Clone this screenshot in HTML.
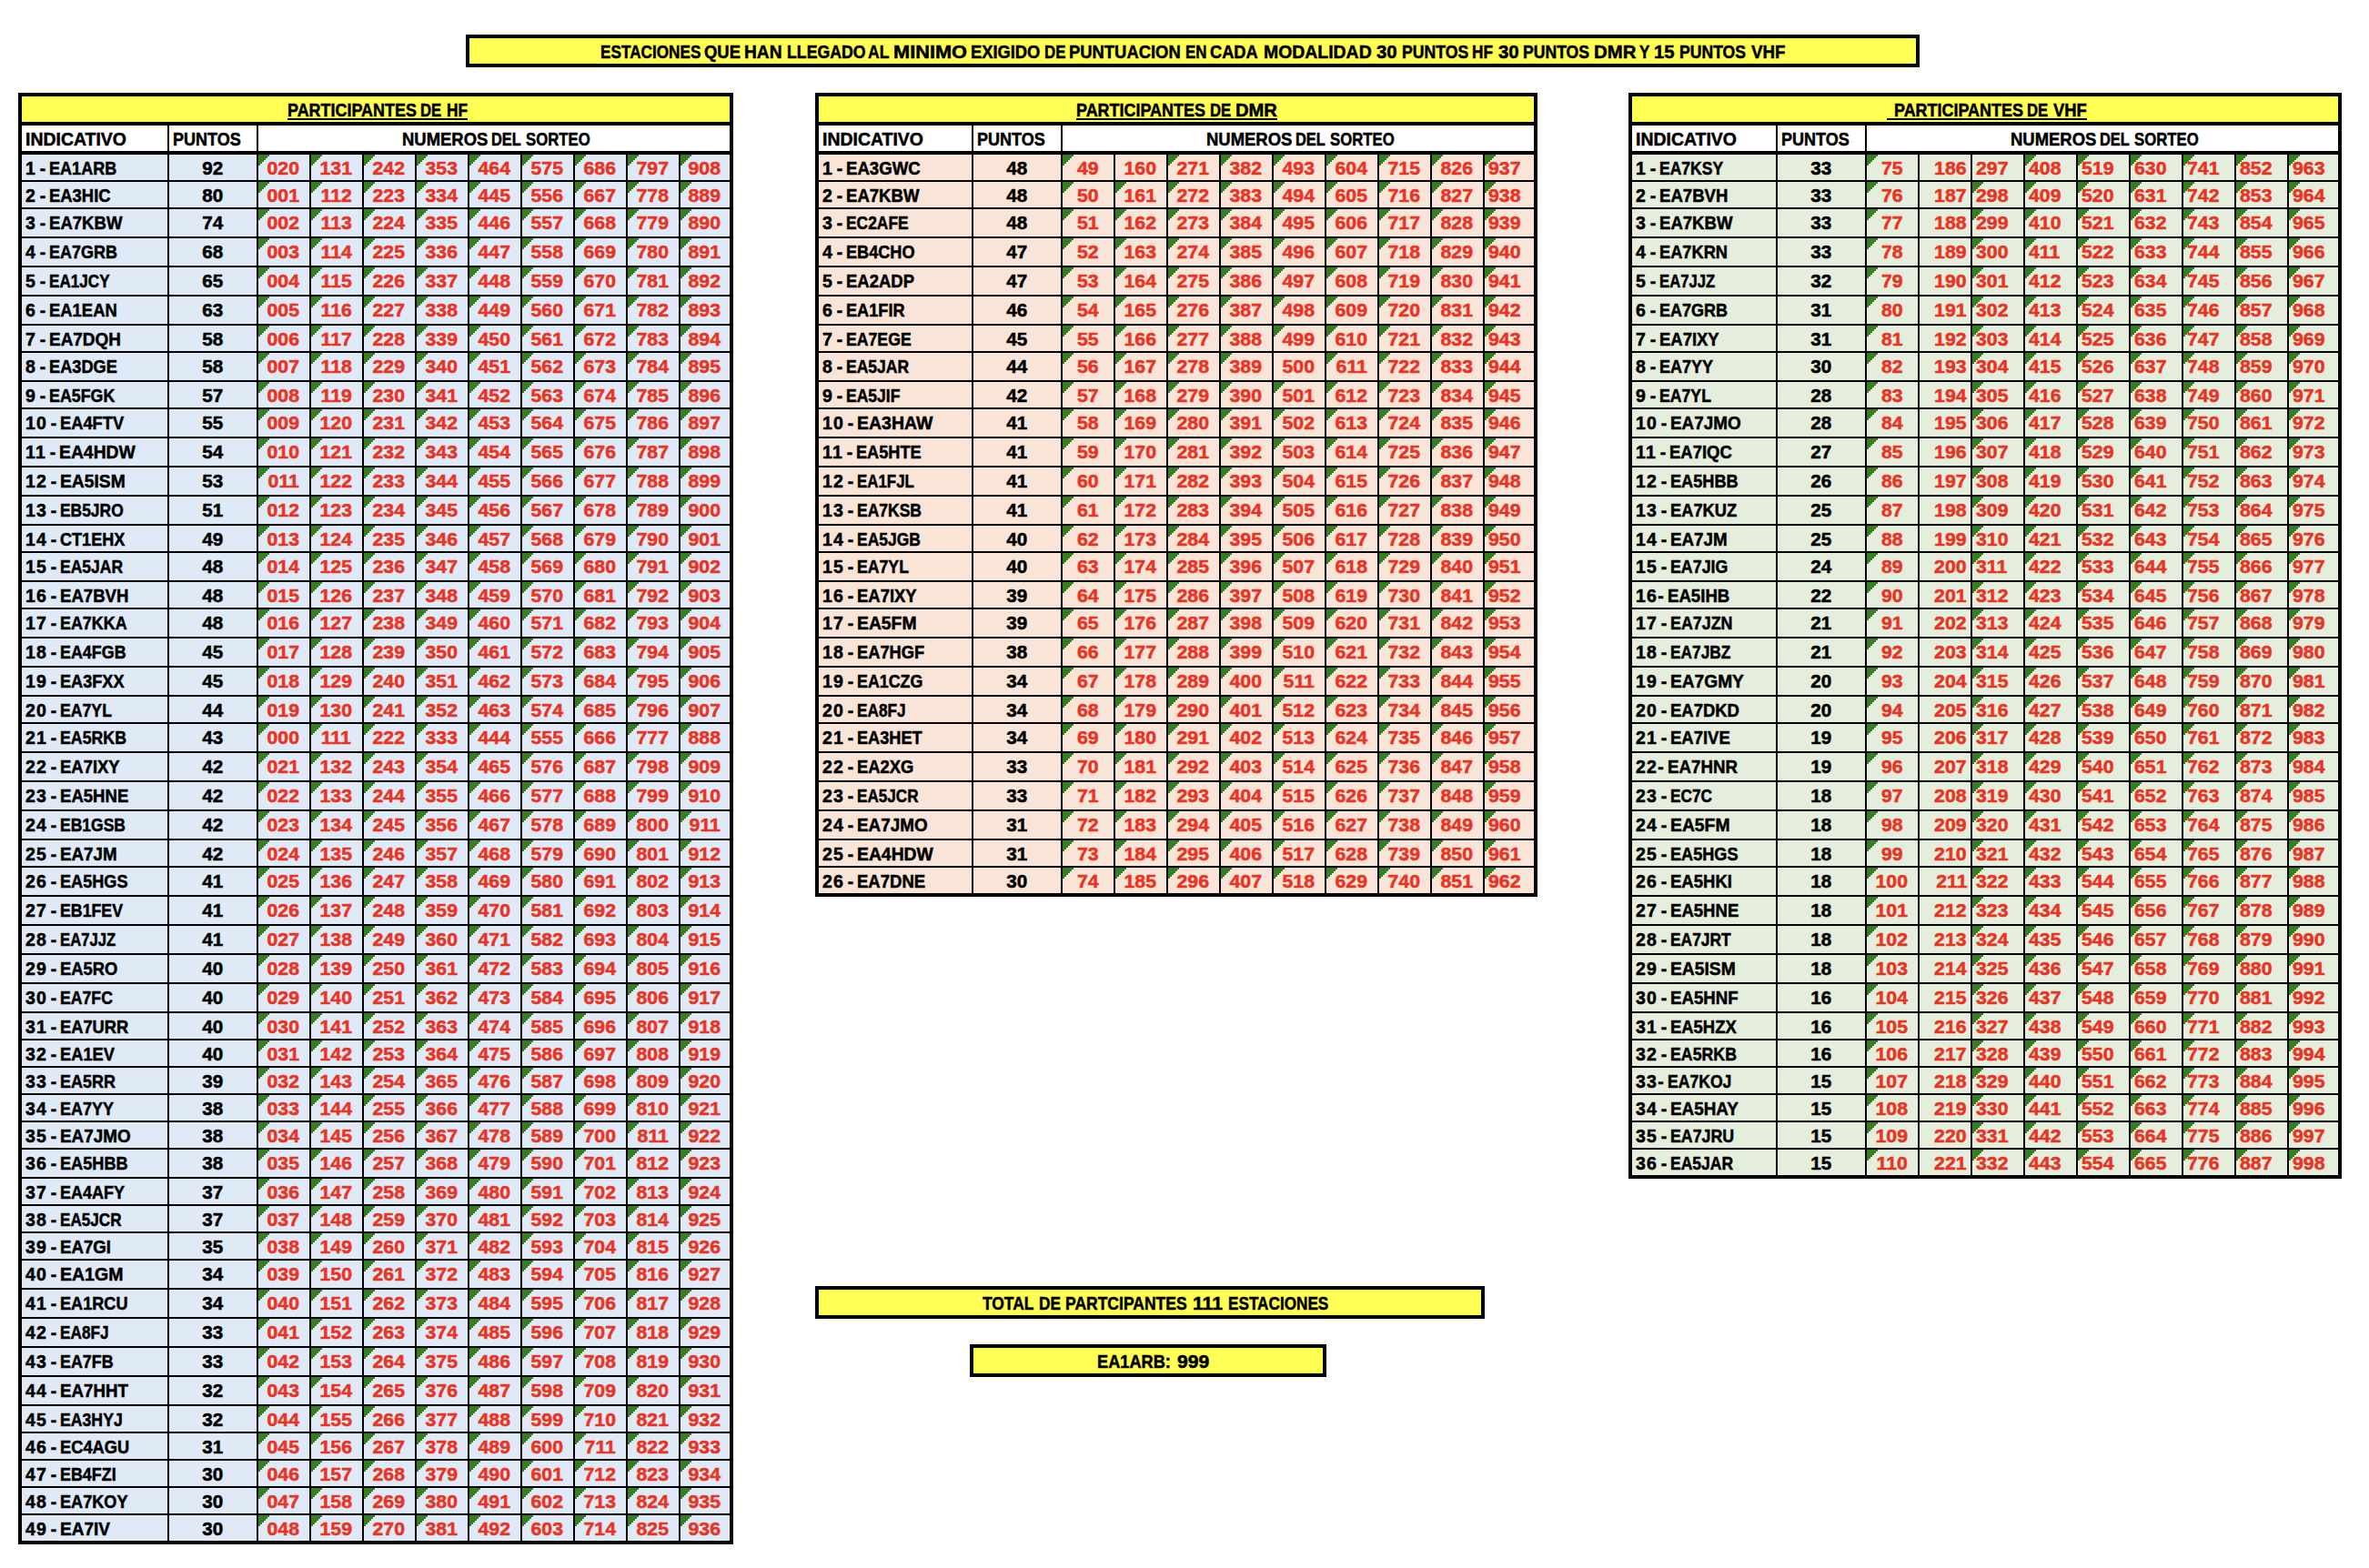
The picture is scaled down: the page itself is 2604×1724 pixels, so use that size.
<!DOCTYPE html><html lang="es"><head><meta charset="utf-8"><title>Sorteo</title><style>
html,body{margin:0;padding:0;background:#fff}
body{width:2604px;height:1724px;position:relative;overflow:hidden;font:bold 19.5px/30px "Liberation Sans",sans-serif;color:#000;-webkit-text-stroke:0.5px}
.tb{position:absolute;top:102px;background:#000}
.ttl{position:absolute;left:4px;right:4px;top:4px;height:28px;background:#ffff54;text-align:center;white-space:pre}
.box{position:absolute;background:#ffff54;border:4px solid #000;height:28px;text-align:center;white-space:pre}
span{display:inline-block;white-space:pre}
.u{text-decoration:underline;text-decoration-thickness:2px;text-underline-offset:2px;text-decoration-skip-ink:none}
.h{position:absolute;top:36px;height:28px;background:#fff;box-sizing:border-box;padding-left:4px;white-space:nowrap}
.h.c{text-align:center;padding-left:0}
.l{transform-origin:0 50%}
.w{position:absolute;top:0;transform-origin:0 50%}
.ul{position:absolute;top:24px;height:2px;background:#000}
.g{position:absolute;left:4px;top:68px;display:grid;gap:2px}
.g div{white-space:nowrap;overflow:hidden;text-align:center}
.g .n{text-align:left;padding-left:4px;word-spacing:-3.06px;letter-spacing:1.26px}
i{font-style:normal;display:inline-block;transform:scaleX(1.09)}
.n i{transform-origin:0 50%;letter-spacing:0;word-spacing:0;margin-left:-1px}
.p i{transform:scaleX(1.06)}
.tl i{transform-origin:0 50%}
.tr i{transform-origin:100% 50%}
.t,.x{color:#ea3323;padding-right:1px}
.g .tl{text-align:left;padding-left:4px}
.g .tr{text-align:right;padding-left:0;padding-right:4px}
.hf .g div{background-color:#dfeaf6}
.dmr .g div{background-color:#f9e5d8}
.vhf .g div{background-color:#e5eedc}
.t{--g:linear-gradient(#377e22,#377e22);background-image:var(--g),var(--g),var(--g),var(--g),var(--g),var(--g);background-repeat:no-repeat;background-size:12px 2px,10px 4px,8px 6px,6px 8px,4px 10px,2px 12px}
</style></head><body>
<div class="box" style="left:512px;top:38px;width:1590px"><span class="w" style="left:144.09px;transform:scaleX(.881)">ESTACIONES</span> <span class="w" style="left:257.91px;transform:scaleX(.946)">QUE</span> <span class="w" style="left:302.05px;transform:scaleX(.984)">HAN</span> <span class="w" style="left:348.65px;transform:scaleX(.908)">LLEGADO</span> <span class="w" style="left:437.91px;transform:scaleX(.899)">AL</span> <span class="w" style="left:465.88px;transform:scaleX(1.116)">MINIMO</span> <span class="w" style="left:550.71px;transform:scaleX(.939)">EXIGIDO</span> <span class="w" style="left:631.51px;transform:scaleX(.864)">DE</span> <span class="w" style="left:659.31px;transform:scaleX(.944)">PUNTUACION</span> <span class="w" style="left:786.91px;transform:scaleX(.866)">EN</span> <span class="w" style="left:814.32px;transform:scaleX(.936)">CADA</span> <span class="w" style="left:872.84px;transform:scaleX(.996)">MODALIDAD</span> <span class="w" style="left:996.79px;transform:scaleX(1.043)">30</span> <span class="w" style="left:1024.56px;transform:scaleX(.904)">PUNTOS</span> <span class="w" style="left:1102.39px;transform:scaleX(.884)">HF</span> <span class="w" style="left:1130.69px;transform:scaleX(1.048)">30</span> <span class="w" style="left:1158.46px;transform:scaleX(.902)">PUNTOS</span> <span class="w" style="left:1235.68px;transform:scaleX(1.043)">DMR</span> <span class="w" style="left:1285.85px;transform:scaleX(.868)">Y</span> <span class="w" style="left:1302.08px;transform:scaleX(1.041)">15</span> <span class="w" style="left:1330.36px;transform:scaleX(.903)">PUNTOS</span> <span class="w" style="left:1408.81px;transform:scaleX(.961)">VHF</span></div>
<div class="tb hf" style="left:20px;width:786px;height:1596px">
<div class="ttl"><span class="w" style="left:292.04px;transform:scaleX(.92)">PARTICIPANTES</span> <span class="w" style="left:438.22px;transform:scaleX(.856)">DE</span> <span class="w" style="left:466.83px;transform:scaleX(.89)">HF</span><div class="ul" style="left:292px;width:198.1px"></div></div>
<div class="h" style="left:4px;width:160px"><span class="l" style="transform:scaleX(.997)">INDICATIVO</span></div>
<div class="h" style="left:166px;width:96px"><span class="l" style="transform:scaleX(.925)">PUNTOS</span></div>
<div class="h c" style="left:264px;width:518px"><span class="w" style="left:157.9px;transform:scaleX(.947)">NUMEROS</span> <span class="w" style="left:256.34px;transform:scaleX(.841)">DEL</span> <span class="w" style="left:293.85px;transform:scaleX(.858)">SORTEO</span></div>
<div class="g" style="grid-template-columns:160px 96px repeat(8,56px) 54px;grid-template-rows:28px 28px 30px 30px 30px 30px 28px 30px 28px 30px 30px 30px 30px 28px 30px 28px 30px 30px 30px 28px 30px 30px 30px 30px 28px 30px 30px 30px 30px 30px 28px 28px 28px 28px 28px 30px 28px 28px 28px 30px 30px 30px 30px 30px 28px 28px 28px 28px 28px">
<div class="n">1 - <i style="transform:scaleX(.926)">EA1ARB</i></div>
<div class="p"><i>92</i></div>
<div class="t"><i>020</i></div>
<div class="t"><i>131</i></div>
<div class="t"><i>242</i></div>
<div class="t"><i>353</i></div>
<div class="t"><i>464</i></div>
<div class="t"><i>575</i></div>
<div class="t"><i>686</i></div>
<div class="t"><i>797</i></div>
<div class="t"><i>908</i></div>
<div class="n">2 - <i style="transform:scaleX(.945)">EA3HIC</i></div>
<div class="p"><i>80</i></div>
<div class="t"><i>001</i></div>
<div class="t"><i>112</i></div>
<div class="t"><i>223</i></div>
<div class="t"><i>334</i></div>
<div class="t"><i>445</i></div>
<div class="t"><i>556</i></div>
<div class="t"><i>667</i></div>
<div class="t"><i>778</i></div>
<div class="t"><i>889</i></div>
<div class="n">3 - <i style="transform:scaleX(.952)">EA7KBW</i></div>
<div class="p"><i>74</i></div>
<div class="t"><i>002</i></div>
<div class="t"><i>113</i></div>
<div class="t"><i>224</i></div>
<div class="t"><i>335</i></div>
<div class="t"><i>446</i></div>
<div class="t"><i>557</i></div>
<div class="t"><i>668</i></div>
<div class="t"><i>779</i></div>
<div class="t"><i>890</i></div>
<div class="n">4 - <i style="transform:scaleX(.922)">EA7GRB</i></div>
<div class="p"><i>68</i></div>
<div class="t"><i>003</i></div>
<div class="t"><i>114</i></div>
<div class="t"><i>225</i></div>
<div class="t"><i>336</i></div>
<div class="t"><i>447</i></div>
<div class="t"><i>558</i></div>
<div class="t"><i>669</i></div>
<div class="t"><i>780</i></div>
<div class="t"><i>891</i></div>
<div class="n">5 - <i style="transform:scaleX(.877)">EA1JCY</i></div>
<div class="p"><i>65</i></div>
<div class="t"><i>004</i></div>
<div class="t"><i>115</i></div>
<div class="t"><i>226</i></div>
<div class="t"><i>337</i></div>
<div class="t"><i>448</i></div>
<div class="t"><i>559</i></div>
<div class="t"><i>670</i></div>
<div class="t"><i>781</i></div>
<div class="t"><i>892</i></div>
<div class="n">6 - <i style="transform:scaleX(.945)">EA1EAN</i></div>
<div class="p"><i>63</i></div>
<div class="t"><i>005</i></div>
<div class="t"><i>116</i></div>
<div class="t"><i>227</i></div>
<div class="t"><i>338</i></div>
<div class="t"><i>449</i></div>
<div class="t"><i>560</i></div>
<div class="t"><i>671</i></div>
<div class="t"><i>782</i></div>
<div class="t"><i>893</i></div>
<div class="n">7 - <i style="transform:scaleX(.972)">EA7DQH</i></div>
<div class="p"><i>58</i></div>
<div class="t"><i>006</i></div>
<div class="t"><i>117</i></div>
<div class="t"><i>228</i></div>
<div class="t"><i>339</i></div>
<div class="t"><i>450</i></div>
<div class="t"><i>561</i></div>
<div class="t"><i>672</i></div>
<div class="t"><i>783</i></div>
<div class="t"><i>894</i></div>
<div class="n">8 - <i style="transform:scaleX(.933)">EA3DGE</i></div>
<div class="p"><i>58</i></div>
<div class="t"><i>007</i></div>
<div class="t"><i>118</i></div>
<div class="t"><i>229</i></div>
<div class="t"><i>340</i></div>
<div class="t"><i>451</i></div>
<div class="t"><i>562</i></div>
<div class="t"><i>673</i></div>
<div class="t"><i>784</i></div>
<div class="t"><i>895</i></div>
<div class="n">9 - <i style="transform:scaleX(.914)">EA5FGK</i></div>
<div class="p"><i>57</i></div>
<div class="t"><i>008</i></div>
<div class="t"><i>119</i></div>
<div class="t"><i>230</i></div>
<div class="t"><i>341</i></div>
<div class="t"><i>452</i></div>
<div class="t"><i>563</i></div>
<div class="t"><i>674</i></div>
<div class="t"><i>785</i></div>
<div class="t"><i>896</i></div>
<div class="n">10 - <i style="transform:scaleX(.938)">EA4FTV</i></div>
<div class="p"><i>55</i></div>
<div class="t"><i>009</i></div>
<div class="t"><i>120</i></div>
<div class="t"><i>231</i></div>
<div class="t"><i>342</i></div>
<div class="t"><i>453</i></div>
<div class="t"><i>564</i></div>
<div class="t"><i>675</i></div>
<div class="t"><i>786</i></div>
<div class="t"><i>897</i></div>
<div class="n">11 - <i style="transform:scaleX(.992)">EA4HDW</i></div>
<div class="p"><i>54</i></div>
<div class="t"><i>010</i></div>
<div class="t"><i>121</i></div>
<div class="t"><i>232</i></div>
<div class="t"><i>343</i></div>
<div class="t"><i>454</i></div>
<div class="t"><i>565</i></div>
<div class="t"><i>676</i></div>
<div class="t"><i>787</i></div>
<div class="t"><i>898</i></div>
<div class="n">12 - <i style="transform:scaleX(.987)">EA5ISM</i></div>
<div class="p"><i>53</i></div>
<div class="t"><i>011</i></div>
<div class="t"><i>122</i></div>
<div class="t"><i>233</i></div>
<div class="t"><i>344</i></div>
<div class="t"><i>455</i></div>
<div class="t"><i>566</i></div>
<div class="t"><i>677</i></div>
<div class="t"><i>788</i></div>
<div class="t"><i>899</i></div>
<div class="n">13 - <i style="transform:scaleX(.893)">EB5JRO</i></div>
<div class="p"><i>51</i></div>
<div class="t"><i>012</i></div>
<div class="t"><i>123</i></div>
<div class="t"><i>234</i></div>
<div class="t"><i>345</i></div>
<div class="t"><i>456</i></div>
<div class="t"><i>567</i></div>
<div class="t"><i>678</i></div>
<div class="t"><i>789</i></div>
<div class="t"><i>900</i></div>
<div class="n">14 - <i style="transform:scaleX(.928)">CT1EHX</i></div>
<div class="p"><i>49</i></div>
<div class="t"><i>013</i></div>
<div class="t"><i>124</i></div>
<div class="t"><i>235</i></div>
<div class="t"><i>346</i></div>
<div class="t"><i>457</i></div>
<div class="t"><i>568</i></div>
<div class="t"><i>679</i></div>
<div class="t"><i>790</i></div>
<div class="t"><i>901</i></div>
<div class="n">15 - <i style="transform:scaleX(.899)">EA5JAR</i></div>
<div class="p"><i>48</i></div>
<div class="t"><i>014</i></div>
<div class="t"><i>125</i></div>
<div class="t"><i>236</i></div>
<div class="t"><i>347</i></div>
<div class="t"><i>458</i></div>
<div class="t"><i>569</i></div>
<div class="t"><i>680</i></div>
<div class="t"><i>791</i></div>
<div class="t"><i>902</i></div>
<div class="n">16 - <i style="transform:scaleX(.953)">EA7BVH</i></div>
<div class="p"><i>48</i></div>
<div class="t"><i>015</i></div>
<div class="t"><i>126</i></div>
<div class="t"><i>237</i></div>
<div class="t"><i>348</i></div>
<div class="t"><i>459</i></div>
<div class="t"><i>570</i></div>
<div class="t"><i>681</i></div>
<div class="t"><i>792</i></div>
<div class="t"><i>903</i></div>
<div class="n">17 - <i style="transform:scaleX(.918)">EA7KKA</i></div>
<div class="p"><i>48</i></div>
<div class="t"><i>016</i></div>
<div class="t"><i>127</i></div>
<div class="t"><i>238</i></div>
<div class="t"><i>349</i></div>
<div class="t"><i>460</i></div>
<div class="t"><i>571</i></div>
<div class="t"><i>682</i></div>
<div class="t"><i>793</i></div>
<div class="t"><i>904</i></div>
<div class="n">18 - <i style="transform:scaleX(.918)">EA4FGB</i></div>
<div class="p"><i>45</i></div>
<div class="t"><i>017</i></div>
<div class="t"><i>128</i></div>
<div class="t"><i>239</i></div>
<div class="t"><i>350</i></div>
<div class="t"><i>461</i></div>
<div class="t"><i>572</i></div>
<div class="t"><i>683</i></div>
<div class="t"><i>794</i></div>
<div class="t"><i>905</i></div>
<div class="n">19 - <i style="transform:scaleX(.93)">EA3FXX</i></div>
<div class="p"><i>45</i></div>
<div class="t"><i>018</i></div>
<div class="t"><i>129</i></div>
<div class="t"><i>240</i></div>
<div class="t"><i>351</i></div>
<div class="t"><i>462</i></div>
<div class="t"><i>573</i></div>
<div class="t"><i>684</i></div>
<div class="t"><i>795</i></div>
<div class="t"><i>906</i></div>
<div class="n">20 - <i style="transform:scaleX(.906)">EA7YL</i></div>
<div class="p"><i>44</i></div>
<div class="t"><i>019</i></div>
<div class="t"><i>130</i></div>
<div class="t"><i>241</i></div>
<div class="t"><i>352</i></div>
<div class="t"><i>463</i></div>
<div class="t"><i>574</i></div>
<div class="t"><i>685</i></div>
<div class="t"><i>796</i></div>
<div class="t"><i>907</i></div>
<div class="n">21 - <i style="transform:scaleX(.91)">EA5RKB</i></div>
<div class="p"><i>43</i></div>
<div class="t"><i>000</i></div>
<div class="t"><i>111</i></div>
<div class="t"><i>222</i></div>
<div class="t"><i>333</i></div>
<div class="t"><i>444</i></div>
<div class="t"><i>555</i></div>
<div class="t"><i>666</i></div>
<div class="t"><i>777</i></div>
<div class="t"><i>888</i></div>
<div class="n">22 - <i style="transform:scaleX(.946)">EA7IXY</i></div>
<div class="p"><i>42</i></div>
<div class="t"><i>021</i></div>
<div class="t"><i>132</i></div>
<div class="t"><i>243</i></div>
<div class="t"><i>354</i></div>
<div class="t"><i>465</i></div>
<div class="t"><i>576</i></div>
<div class="t"><i>687</i></div>
<div class="t"><i>798</i></div>
<div class="t"><i>909</i></div>
<div class="n">23 - <i style="transform:scaleX(.952)">EA5HNE</i></div>
<div class="p"><i>42</i></div>
<div class="t"><i>022</i></div>
<div class="t"><i>133</i></div>
<div class="t"><i>244</i></div>
<div class="t"><i>355</i></div>
<div class="t"><i>466</i></div>
<div class="t"><i>577</i></div>
<div class="t"><i>688</i></div>
<div class="t"><i>799</i></div>
<div class="t"><i>910</i></div>
<div class="n">24 - <i style="transform:scaleX(.897)">EB1GSB</i></div>
<div class="p"><i>42</i></div>
<div class="t"><i>023</i></div>
<div class="t"><i>134</i></div>
<div class="t"><i>245</i></div>
<div class="t"><i>356</i></div>
<div class="t"><i>467</i></div>
<div class="t"><i>578</i></div>
<div class="t"><i>689</i></div>
<div class="t"><i>800</i></div>
<div class="t"><i>911</i></div>
<div class="n">25 - <i style="transform:scaleX(.964)">EA7JM</i></div>
<div class="p"><i>42</i></div>
<div class="t"><i>024</i></div>
<div class="t"><i>135</i></div>
<div class="t"><i>246</i></div>
<div class="t"><i>357</i></div>
<div class="t"><i>468</i></div>
<div class="t"><i>579</i></div>
<div class="t"><i>690</i></div>
<div class="t"><i>801</i></div>
<div class="t"><i>912</i></div>
<div class="n">26 - <i style="transform:scaleX(.929)">EA5HGS</i></div>
<div class="p"><i>41</i></div>
<div class="t"><i>025</i></div>
<div class="t"><i>136</i></div>
<div class="t"><i>247</i></div>
<div class="t"><i>358</i></div>
<div class="t"><i>469</i></div>
<div class="t"><i>580</i></div>
<div class="t"><i>691</i></div>
<div class="t"><i>802</i></div>
<div class="t"><i>913</i></div>
<div class="n">27 - <i style="transform:scaleX(.91)">EB1FEV</i></div>
<div class="p"><i>41</i></div>
<div class="t"><i>026</i></div>
<div class="t"><i>137</i></div>
<div class="t"><i>248</i></div>
<div class="t"><i>359</i></div>
<div class="t"><i>470</i></div>
<div class="t"><i>581</i></div>
<div class="t"><i>692</i></div>
<div class="t"><i>803</i></div>
<div class="t"><i>914</i></div>
<div class="n">28 - <i style="transform:scaleX(.856)">EA7JJZ</i></div>
<div class="p"><i>41</i></div>
<div class="t"><i>027</i></div>
<div class="t"><i>138</i></div>
<div class="t"><i>249</i></div>
<div class="t"><i>360</i></div>
<div class="t"><i>471</i></div>
<div class="t"><i>582</i></div>
<div class="t"><i>693</i></div>
<div class="t"><i>804</i></div>
<div class="t"><i>915</i></div>
<div class="n">29 - <i style="transform:scaleX(.944)">EA5RO</i></div>
<div class="p"><i>40</i></div>
<div class="t"><i>028</i></div>
<div class="t"><i>139</i></div>
<div class="t"><i>250</i></div>
<div class="t"><i>361</i></div>
<div class="t"><i>472</i></div>
<div class="t"><i>583</i></div>
<div class="t"><i>694</i></div>
<div class="t"><i>805</i></div>
<div class="t"><i>916</i></div>
<div class="n">30 - <i style="transform:scaleX(.906)">EA7FC</i></div>
<div class="p"><i>40</i></div>
<div class="t"><i>029</i></div>
<div class="t"><i>140</i></div>
<div class="t"><i>251</i></div>
<div class="t"><i>362</i></div>
<div class="t"><i>473</i></div>
<div class="t"><i>584</i></div>
<div class="t"><i>695</i></div>
<div class="t"><i>806</i></div>
<div class="t"><i>917</i></div>
<div class="n">31 - <i style="transform:scaleX(.939)">EA7URR</i></div>
<div class="p"><i>40</i></div>
<div class="t"><i>030</i></div>
<div class="t"><i>141</i></div>
<div class="t"><i>252</i></div>
<div class="t"><i>363</i></div>
<div class="t"><i>474</i></div>
<div class="t"><i>585</i></div>
<div class="t"><i>696</i></div>
<div class="t"><i>807</i></div>
<div class="t"><i>918</i></div>
<div class="n">32 - <i style="transform:scaleX(.937)">EA1EV</i></div>
<div class="p"><i>40</i></div>
<div class="t"><i>031</i></div>
<div class="t"><i>142</i></div>
<div class="t"><i>253</i></div>
<div class="t"><i>364</i></div>
<div class="t"><i>475</i></div>
<div class="t"><i>586</i></div>
<div class="t"><i>697</i></div>
<div class="t"><i>808</i></div>
<div class="t"><i>919</i></div>
<div class="n">33 - <i style="transform:scaleX(.922)">EA5RR</i></div>
<div class="p"><i>39</i></div>
<div class="t"><i>032</i></div>
<div class="t"><i>143</i></div>
<div class="t"><i>254</i></div>
<div class="t"><i>365</i></div>
<div class="t"><i>476</i></div>
<div class="t"><i>587</i></div>
<div class="t"><i>698</i></div>
<div class="t"><i>809</i></div>
<div class="t"><i>920</i></div>
<div class="n">34 - <i style="transform:scaleX(.923)">EA7YY</i></div>
<div class="p"><i>38</i></div>
<div class="t"><i>033</i></div>
<div class="t"><i>144</i></div>
<div class="t"><i>255</i></div>
<div class="t"><i>366</i></div>
<div class="t"><i>477</i></div>
<div class="t"><i>588</i></div>
<div class="t"><i>699</i></div>
<div class="t"><i>810</i></div>
<div class="t"><i>921</i></div>
<div class="n">35 - <i style="transform:scaleX(.967)">EA7JMO</i></div>
<div class="p"><i>38</i></div>
<div class="t"><i>034</i></div>
<div class="t"><i>145</i></div>
<div class="t"><i>256</i></div>
<div class="t"><i>367</i></div>
<div class="t"><i>478</i></div>
<div class="t"><i>589</i></div>
<div class="t"><i>700</i></div>
<div class="t"><i>811</i></div>
<div class="t"><i>922</i></div>
<div class="n">36 - <i style="transform:scaleX(.932)">EA5HBB</i></div>
<div class="p"><i>38</i></div>
<div class="t"><i>035</i></div>
<div class="t"><i>146</i></div>
<div class="t"><i>257</i></div>
<div class="t"><i>368</i></div>
<div class="t"><i>479</i></div>
<div class="t"><i>590</i></div>
<div class="t"><i>701</i></div>
<div class="t"><i>812</i></div>
<div class="t"><i>923</i></div>
<div class="n">37 - <i style="transform:scaleX(.923)">EA4AFY</i></div>
<div class="p"><i>37</i></div>
<div class="t"><i>036</i></div>
<div class="t"><i>147</i></div>
<div class="t"><i>258</i></div>
<div class="t"><i>369</i></div>
<div class="t"><i>480</i></div>
<div class="t"><i>591</i></div>
<div class="t"><i>702</i></div>
<div class="t"><i>813</i></div>
<div class="t"><i>924</i></div>
<div class="n">38 - <i style="transform:scaleX(.877)">EA5JCR</i></div>
<div class="p"><i>37</i></div>
<div class="t"><i>037</i></div>
<div class="t"><i>148</i></div>
<div class="t"><i>259</i></div>
<div class="t"><i>370</i></div>
<div class="t"><i>481</i></div>
<div class="t"><i>592</i></div>
<div class="t"><i>703</i></div>
<div class="t"><i>814</i></div>
<div class="t"><i>925</i></div>
<div class="n">39 - <i style="transform:scaleX(.958)">EA7GI</i></div>
<div class="p"><i>35</i></div>
<div class="t"><i>038</i></div>
<div class="t"><i>149</i></div>
<div class="t"><i>260</i></div>
<div class="t"><i>371</i></div>
<div class="t"><i>482</i></div>
<div class="t"><i>593</i></div>
<div class="t"><i>704</i></div>
<div class="t"><i>815</i></div>
<div class="t"><i>926</i></div>
<div class="n">40 - <i style="transform:scaleX(1.001)">EA1GM</i></div>
<div class="p"><i>34</i></div>
<div class="t"><i>039</i></div>
<div class="t"><i>150</i></div>
<div class="t"><i>261</i></div>
<div class="t"><i>372</i></div>
<div class="t"><i>483</i></div>
<div class="t"><i>594</i></div>
<div class="t"><i>705</i></div>
<div class="t"><i>816</i></div>
<div class="t"><i>927</i></div>
<div class="n">41 - <i style="transform:scaleX(.93)">EA1RCU</i></div>
<div class="p"><i>34</i></div>
<div class="t"><i>040</i></div>
<div class="t"><i>151</i></div>
<div class="t"><i>262</i></div>
<div class="t"><i>373</i></div>
<div class="t"><i>484</i></div>
<div class="t"><i>595</i></div>
<div class="t"><i>706</i></div>
<div class="t"><i>817</i></div>
<div class="t"><i>928</i></div>
<div class="n">42 - <i style="transform:scaleX(.882)">EA8FJ</i></div>
<div class="p"><i>33</i></div>
<div class="t"><i>041</i></div>
<div class="t"><i>152</i></div>
<div class="t"><i>263</i></div>
<div class="t"><i>374</i></div>
<div class="t"><i>485</i></div>
<div class="t"><i>596</i></div>
<div class="t"><i>707</i></div>
<div class="t"><i>818</i></div>
<div class="t"><i>929</i></div>
<div class="n">43 - <i style="transform:scaleX(.917)">EA7FB</i></div>
<div class="p"><i>33</i></div>
<div class="t"><i>042</i></div>
<div class="t"><i>153</i></div>
<div class="t"><i>264</i></div>
<div class="t"><i>375</i></div>
<div class="t"><i>486</i></div>
<div class="t"><i>597</i></div>
<div class="t"><i>708</i></div>
<div class="t"><i>819</i></div>
<div class="t"><i>930</i></div>
<div class="n">44 - <i style="transform:scaleX(.959)">EA7HHT</i></div>
<div class="p"><i>32</i></div>
<div class="t"><i>043</i></div>
<div class="t"><i>154</i></div>
<div class="t"><i>265</i></div>
<div class="t"><i>376</i></div>
<div class="t"><i>487</i></div>
<div class="t"><i>598</i></div>
<div class="t"><i>709</i></div>
<div class="t"><i>820</i></div>
<div class="t"><i>931</i></div>
<div class="n">45 - <i style="transform:scaleX(.906)">EA3HYJ</i></div>
<div class="p"><i>32</i></div>
<div class="t"><i>044</i></div>
<div class="t"><i>155</i></div>
<div class="t"><i>266</i></div>
<div class="t"><i>377</i></div>
<div class="t"><i>488</i></div>
<div class="t"><i>599</i></div>
<div class="t"><i>710</i></div>
<div class="t"><i>821</i></div>
<div class="t"><i>932</i></div>
<div class="n">46 - <i style="transform:scaleX(.937)">EC4AGU</i></div>
<div class="p"><i>31</i></div>
<div class="t"><i>045</i></div>
<div class="t"><i>156</i></div>
<div class="t"><i>267</i></div>
<div class="t"><i>378</i></div>
<div class="t"><i>489</i></div>
<div class="t"><i>600</i></div>
<div class="t"><i>711</i></div>
<div class="t"><i>822</i></div>
<div class="t"><i>933</i></div>
<div class="n">47 - <i style="transform:scaleX(.918)">EB4FZI</i></div>
<div class="p"><i>30</i></div>
<div class="t"><i>046</i></div>
<div class="t"><i>157</i></div>
<div class="t"><i>268</i></div>
<div class="t"><i>379</i></div>
<div class="t"><i>490</i></div>
<div class="t"><i>601</i></div>
<div class="t"><i>712</i></div>
<div class="t"><i>823</i></div>
<div class="t"><i>934</i></div>
<div class="n">48 - <i style="transform:scaleX(.929)">EA7KOY</i></div>
<div class="p"><i>30</i></div>
<div class="t"><i>047</i></div>
<div class="t"><i>158</i></div>
<div class="t"><i>269</i></div>
<div class="t"><i>380</i></div>
<div class="t"><i>491</i></div>
<div class="t"><i>602</i></div>
<div class="t"><i>713</i></div>
<div class="t"><i>824</i></div>
<div class="t"><i>935</i></div>
<div class="n">49 - <i style="transform:scaleX(.977)">EA7IV</i></div>
<div class="p"><i>30</i></div>
<div class="t"><i>048</i></div>
<div class="t"><i>159</i></div>
<div class="t"><i>270</i></div>
<div class="t"><i>381</i></div>
<div class="t"><i>492</i></div>
<div class="t"><i>603</i></div>
<div class="t"><i>714</i></div>
<div class="t"><i>825</i></div>
<div class="t"><i>936</i></div>
</div></div>
<div class="tb dmr" style="left:896px;width:794px;height:884px">
<div class="ttl"><span class="w" style="left:283.44px;transform:scaleX(.92)">PARTICIPANTES</span> <span class="w" style="left:429.62px;transform:scaleX(.856)">DE</span> <span class="w" style="left:458.04px;transform:scaleX(1.034)">DMR</span><div class="ul" style="left:283.4px;width:220.9px"></div></div>
<div class="h" style="left:4px;width:168px"><span class="l" style="transform:scaleX(.997)">INDICATIVO</span></div>
<div class="h" style="left:174px;width:96px"><span class="l" style="transform:scaleX(.925)">PUNTOS</span></div>
<div class="h c" style="left:272px;width:518px"><span class="w" style="left:157.6px;transform:scaleX(.947)">NUMEROS</span> <span class="w" style="left:256.04px;transform:scaleX(.841)">DEL</span> <span class="w" style="left:293.55px;transform:scaleX(.858)">SORTEO</span></div>
<div class="g" style="grid-template-columns:168px 96px repeat(8,56px) 54px;grid-template-rows:28px 28px 30px 30px 30px 30px 28px 30px 28px 30px 30px 30px 30px 28px 30px 28px 30px 30px 30px 28px 30px 30px 30px 30px 28px 28px">
<div class="n">1 - <i style="transform:scaleX(.955)">EA3GWC</i></div>
<div class="p"><i>48</i></div>
<div class="t"><i>49</i></div>
<div class="x"><i>160</i></div>
<div class="t"><i>271</i></div>
<div class="t"><i>382</i></div>
<div class="t"><i>493</i></div>
<div class="t"><i>604</i></div>
<div class="t"><i>715</i></div>
<div class="t"><i>826</i></div>
<div class="t tl"><i>937</i></div>
<div class="n">2 - <i style="transform:scaleX(.952)">EA7KBW</i></div>
<div class="p"><i>48</i></div>
<div class="t"><i>50</i></div>
<div class="t"><i>161</i></div>
<div class="t"><i>272</i></div>
<div class="t"><i>383</i></div>
<div class="t"><i>494</i></div>
<div class="t"><i>605</i></div>
<div class="t"><i>716</i></div>
<div class="t"><i>827</i></div>
<div class="t tl"><i>938</i></div>
<div class="n">3 - <i style="transform:scaleX(.892)">EC2AFE</i></div>
<div class="p"><i>48</i></div>
<div class="t"><i>51</i></div>
<div class="t"><i>162</i></div>
<div class="t"><i>273</i></div>
<div class="t"><i>384</i></div>
<div class="t"><i>495</i></div>
<div class="t"><i>606</i></div>
<div class="t"><i>717</i></div>
<div class="t"><i>828</i></div>
<div class="t tl"><i>939</i></div>
<div class="n">4 - <i style="transform:scaleX(.93)">EB4CHO</i></div>
<div class="p"><i>47</i></div>
<div class="t"><i>52</i></div>
<div class="t"><i>163</i></div>
<div class="t"><i>274</i></div>
<div class="t"><i>385</i></div>
<div class="t"><i>496</i></div>
<div class="t"><i>607</i></div>
<div class="t"><i>718</i></div>
<div class="t"><i>829</i></div>
<div class="t tl"><i>940</i></div>
<div class="n">5 - <i style="transform:scaleX(.949)">EA2ADP</i></div>
<div class="p"><i>47</i></div>
<div class="t"><i>53</i></div>
<div class="t"><i>164</i></div>
<div class="t"><i>275</i></div>
<div class="t"><i>386</i></div>
<div class="t"><i>497</i></div>
<div class="t"><i>608</i></div>
<div class="t"><i>719</i></div>
<div class="t"><i>830</i></div>
<div class="t tl"><i>941</i></div>
<div class="n">6 - <i style="transform:scaleX(.931)">EA1FIR</i></div>
<div class="p"><i>46</i></div>
<div class="t"><i>54</i></div>
<div class="t"><i>165</i></div>
<div class="t"><i>276</i></div>
<div class="t"><i>387</i></div>
<div class="t"><i>498</i></div>
<div class="t"><i>609</i></div>
<div class="t"><i>720</i></div>
<div class="t"><i>831</i></div>
<div class="t tl"><i>942</i></div>
<div class="n">7 - <i style="transform:scaleX(.906)">EA7EGE</i></div>
<div class="p"><i>45</i></div>
<div class="t"><i>55</i></div>
<div class="t"><i>166</i></div>
<div class="t"><i>277</i></div>
<div class="t"><i>388</i></div>
<div class="t"><i>499</i></div>
<div class="t"><i>610</i></div>
<div class="t"><i>721</i></div>
<div class="t"><i>832</i></div>
<div class="t tl"><i>943</i></div>
<div class="n">8 - <i style="transform:scaleX(.899)">EA5JAR</i></div>
<div class="p"><i>44</i></div>
<div class="t"><i>56</i></div>
<div class="t"><i>167</i></div>
<div class="t"><i>278</i></div>
<div class="t"><i>389</i></div>
<div class="x"><i>500</i></div>
<div class="t"><i>611</i></div>
<div class="t"><i>722</i></div>
<div class="t"><i>833</i></div>
<div class="t tl"><i>944</i></div>
<div class="n">9 - <i style="transform:scaleX(.899)">EA5JIF</i></div>
<div class="p"><i>42</i></div>
<div class="t"><i>57</i></div>
<div class="t"><i>168</i></div>
<div class="t"><i>279</i></div>
<div class="t"><i>390</i></div>
<div class="t"><i>501</i></div>
<div class="t"><i>612</i></div>
<div class="t"><i>723</i></div>
<div class="t"><i>834</i></div>
<div class="t tl"><i>945</i></div>
<div class="n">10 - <i style="transform:scaleX(.999)">EA3HAW</i></div>
<div class="p"><i>41</i></div>
<div class="t"><i>58</i></div>
<div class="t"><i>169</i></div>
<div class="t"><i>280</i></div>
<div class="t"><i>391</i></div>
<div class="t"><i>502</i></div>
<div class="t"><i>613</i></div>
<div class="t"><i>724</i></div>
<div class="t"><i>835</i></div>
<div class="t tl"><i>946</i></div>
<div class="n">11 - <i style="transform:scaleX(.932)">EA5HTE</i></div>
<div class="p"><i>41</i></div>
<div class="t"><i>59</i></div>
<div class="t"><i>170</i></div>
<div class="t"><i>281</i></div>
<div class="t"><i>392</i></div>
<div class="t"><i>503</i></div>
<div class="t"><i>614</i></div>
<div class="t"><i>725</i></div>
<div class="t"><i>836</i></div>
<div class="t tl"><i>947</i></div>
<div class="n">12 - <i style="transform:scaleX(.866)">EA1FJL</i></div>
<div class="p"><i>41</i></div>
<div class="t"><i>60</i></div>
<div class="t"><i>171</i></div>
<div class="t"><i>282</i></div>
<div class="t"><i>393</i></div>
<div class="t"><i>504</i></div>
<div class="t"><i>615</i></div>
<div class="t"><i>726</i></div>
<div class="t"><i>837</i></div>
<div class="t tl"><i>948</i></div>
<div class="n">13 - <i style="transform:scaleX(.897)">EA7KSB</i></div>
<div class="p"><i>41</i></div>
<div class="t"><i>61</i></div>
<div class="t"><i>172</i></div>
<div class="t"><i>283</i></div>
<div class="t"><i>394</i></div>
<div class="t"><i>505</i></div>
<div class="t"><i>616</i></div>
<div class="t"><i>727</i></div>
<div class="t"><i>838</i></div>
<div class="t tl"><i>949</i></div>
<div class="n">14 - <i style="transform:scaleX(.895)">EA5JGB</i></div>
<div class="p"><i>40</i></div>
<div class="t"><i>62</i></div>
<div class="t"><i>173</i></div>
<div class="t"><i>284</i></div>
<div class="t"><i>395</i></div>
<div class="t"><i>506</i></div>
<div class="t"><i>617</i></div>
<div class="t"><i>728</i></div>
<div class="t"><i>839</i></div>
<div class="t tl"><i>950</i></div>
<div class="n">15 - <i style="transform:scaleX(.906)">EA7YL</i></div>
<div class="p"><i>40</i></div>
<div class="t"><i>63</i></div>
<div class="t"><i>174</i></div>
<div class="t"><i>285</i></div>
<div class="t"><i>396</i></div>
<div class="t"><i>507</i></div>
<div class="t"><i>618</i></div>
<div class="t"><i>729</i></div>
<div class="t"><i>840</i></div>
<div class="t tl"><i>951</i></div>
<div class="n">16 - <i style="transform:scaleX(.946)">EA7IXY</i></div>
<div class="p"><i>39</i></div>
<div class="t"><i>64</i></div>
<div class="t"><i>175</i></div>
<div class="t"><i>286</i></div>
<div class="t"><i>397</i></div>
<div class="t"><i>508</i></div>
<div class="t"><i>619</i></div>
<div class="t"><i>730</i></div>
<div class="t"><i>841</i></div>
<div class="t tl"><i>952</i></div>
<div class="n">17 - <i style="transform:scaleX(.991)">EA5FM</i></div>
<div class="p"><i>39</i></div>
<div class="t"><i>65</i></div>
<div class="t"><i>176</i></div>
<div class="t"><i>287</i></div>
<div class="t"><i>398</i></div>
<div class="t"><i>509</i></div>
<div class="t"><i>620</i></div>
<div class="t"><i>731</i></div>
<div class="t"><i>842</i></div>
<div class="t tl"><i>953</i></div>
<div class="n">18 - <i style="transform:scaleX(.938)">EA7HGF</i></div>
<div class="p"><i>38</i></div>
<div class="t"><i>66</i></div>
<div class="t"><i>177</i></div>
<div class="t"><i>288</i></div>
<div class="t"><i>399</i></div>
<div class="t"><i>510</i></div>
<div class="t"><i>621</i></div>
<div class="t"><i>732</i></div>
<div class="t"><i>843</i></div>
<div class="t tl"><i>954</i></div>
<div class="n">19 - <i style="transform:scaleX(.915)">EA1CZG</i></div>
<div class="p"><i>34</i></div>
<div class="t"><i>67</i></div>
<div class="t"><i>178</i></div>
<div class="t"><i>289</i></div>
<div class="t"><i>400</i></div>
<div class="t"><i>511</i></div>
<div class="t"><i>622</i></div>
<div class="t"><i>733</i></div>
<div class="t"><i>844</i></div>
<div class="t tl"><i>955</i></div>
<div class="n">20 - <i style="transform:scaleX(.882)">EA8FJ</i></div>
<div class="p"><i>34</i></div>
<div class="t"><i>68</i></div>
<div class="t"><i>179</i></div>
<div class="t"><i>290</i></div>
<div class="t"><i>401</i></div>
<div class="t"><i>512</i></div>
<div class="t"><i>623</i></div>
<div class="t"><i>734</i></div>
<div class="t"><i>845</i></div>
<div class="t tl"><i>956</i></div>
<div class="n">21 - <i style="transform:scaleX(.932)">EA3HET</i></div>
<div class="p"><i>34</i></div>
<div class="t"><i>69</i></div>
<div class="t"><i>180</i></div>
<div class="t"><i>291</i></div>
<div class="t"><i>402</i></div>
<div class="t"><i>513</i></div>
<div class="t"><i>624</i></div>
<div class="t"><i>735</i></div>
<div class="t"><i>846</i></div>
<div class="t tl"><i>957</i></div>
<div class="n">22 - <i style="transform:scaleX(.942)">EA2XG</i></div>
<div class="p"><i>33</i></div>
<div class="t"><i>70</i></div>
<div class="t"><i>181</i></div>
<div class="t"><i>292</i></div>
<div class="t"><i>403</i></div>
<div class="t"><i>514</i></div>
<div class="t"><i>625</i></div>
<div class="t"><i>736</i></div>
<div class="t"><i>847</i></div>
<div class="t tl"><i>958</i></div>
<div class="n">23 - <i style="transform:scaleX(.877)">EA5JCR</i></div>
<div class="p"><i>33</i></div>
<div class="t"><i>71</i></div>
<div class="t"><i>182</i></div>
<div class="t"><i>293</i></div>
<div class="t"><i>404</i></div>
<div class="t"><i>515</i></div>
<div class="t"><i>626</i></div>
<div class="t"><i>737</i></div>
<div class="t"><i>848</i></div>
<div class="t tl"><i>959</i></div>
<div class="n">24 - <i style="transform:scaleX(.967)">EA7JMO</i></div>
<div class="p"><i>31</i></div>
<div class="t"><i>72</i></div>
<div class="t"><i>183</i></div>
<div class="t"><i>294</i></div>
<div class="t"><i>405</i></div>
<div class="t"><i>516</i></div>
<div class="t"><i>627</i></div>
<div class="t"><i>738</i></div>
<div class="t"><i>849</i></div>
<div class="t tl"><i>960</i></div>
<div class="n">25 - <i style="transform:scaleX(.992)">EA4HDW</i></div>
<div class="p"><i>31</i></div>
<div class="t"><i>73</i></div>
<div class="t"><i>184</i></div>
<div class="t"><i>295</i></div>
<div class="t"><i>406</i></div>
<div class="t"><i>517</i></div>
<div class="t"><i>628</i></div>
<div class="t"><i>739</i></div>
<div class="t"><i>850</i></div>
<div class="t tl"><i>961</i></div>
<div class="n">26 - <i style="transform:scaleX(.951)">EA7DNE</i></div>
<div class="p"><i>30</i></div>
<div class="t"><i>74</i></div>
<div class="t"><i>185</i></div>
<div class="t"><i>296</i></div>
<div class="t"><i>407</i></div>
<div class="t"><i>518</i></div>
<div class="t"><i>629</i></div>
<div class="t"><i>740</i></div>
<div class="t"><i>851</i></div>
<div class="t tl"><i>962</i></div>
</div></div>
<div class="tb vhf" style="left:1790px;width:784px;height:1194px">
<div class="ttl"><span class="w" style="left:287.54px;transform:scaleX(.92)">PARTICIPANTES</span> <span class="w" style="left:433.72px;transform:scaleX(.856)">DE</span> <span class="w" style="left:463.36px;transform:scaleX(.943)">VHF</span><div class="ul" style="left:280px;width:220.2px"></div></div>
<div class="h" style="left:4px;width:158px"><span class="l" style="transform:scaleX(.997)">INDICATIVO</span></div>
<div class="h" style="left:164px;width:96px"><span class="l" style="transform:scaleX(.925)">PUNTOS</span></div>
<div class="h c" style="left:262px;width:518px"><span class="w" style="left:157.7px;transform:scaleX(.947)">NUMEROS</span> <span class="w" style="left:256.14px;transform:scaleX(.841)">DEL</span> <span class="w" style="left:293.65px;transform:scaleX(.858)">SORTEO</span></div>
<div class="g" style="grid-template-columns:158px 96px repeat(8,56px) 54px;grid-template-rows:28px 28px 30px 30px 30px 30px 28px 30px 28px 30px 30px 30px 30px 28px 30px 28px 30px 30px 30px 28px 30px 30px 30px 30px 28px 30px 30px 30px 30px 30px 28px 28px 28px 28px 28px 28px">
<div class="n">1 - <i style="transform:scaleX(.898)">EA7KSY</i></div>
<div class="p"><i>33</i></div>
<div class="t"><i>75</i></div>
<div class="x tr"><i>186</i></div>
<div class="x tl"><i>297</i></div>
<div class="t tl"><i>408</i></div>
<div class="t tl"><i>519</i></div>
<div class="t tl"><i>630</i></div>
<div class="t tl"><i>741</i></div>
<div class="t tl"><i>852</i></div>
<div class="t tl"><i>963</i></div>
<div class="n">2 - <i style="transform:scaleX(.953)">EA7BVH</i></div>
<div class="p"><i>33</i></div>
<div class="t"><i>76</i></div>
<div class="x tr"><i>187</i></div>
<div class="t tl"><i>298</i></div>
<div class="t tl"><i>409</i></div>
<div class="t tl"><i>520</i></div>
<div class="t tl"><i>631</i></div>
<div class="t tl"><i>742</i></div>
<div class="t tl"><i>853</i></div>
<div class="t tl"><i>964</i></div>
<div class="n">3 - <i style="transform:scaleX(.952)">EA7KBW</i></div>
<div class="p"><i>33</i></div>
<div class="t"><i>77</i></div>
<div class="x tr"><i>188</i></div>
<div class="t tl"><i>299</i></div>
<div class="t tl"><i>410</i></div>
<div class="t tl"><i>521</i></div>
<div class="t tl"><i>632</i></div>
<div class="t tl"><i>743</i></div>
<div class="t tl"><i>854</i></div>
<div class="t tl"><i>965</i></div>
<div class="n">4 - <i style="transform:scaleX(.936)">EA7KRN</i></div>
<div class="p"><i>33</i></div>
<div class="t"><i>78</i></div>
<div class="x tr"><i>189</i></div>
<div class="t tl"><i>300</i></div>
<div class="t tl"><i>411</i></div>
<div class="t tl"><i>522</i></div>
<div class="t tl"><i>633</i></div>
<div class="t tl"><i>744</i></div>
<div class="t tl"><i>855</i></div>
<div class="t tl"><i>966</i></div>
<div class="n">5 - <i style="transform:scaleX(.856)">EA7JJZ</i></div>
<div class="p"><i>32</i></div>
<div class="t"><i>79</i></div>
<div class="x tr"><i>190</i></div>
<div class="t tl"><i>301</i></div>
<div class="t tl"><i>412</i></div>
<div class="t tl"><i>523</i></div>
<div class="t tl"><i>634</i></div>
<div class="t tl"><i>745</i></div>
<div class="t tl"><i>856</i></div>
<div class="t tl"><i>967</i></div>
<div class="n">6 - <i style="transform:scaleX(.922)">EA7GRB</i></div>
<div class="p"><i>31</i></div>
<div class="t"><i>80</i></div>
<div class="x tr"><i>191</i></div>
<div class="t tl"><i>302</i></div>
<div class="t tl"><i>413</i></div>
<div class="t tl"><i>524</i></div>
<div class="t tl"><i>635</i></div>
<div class="t tl"><i>746</i></div>
<div class="t tl"><i>857</i></div>
<div class="t tl"><i>968</i></div>
<div class="n">7 - <i style="transform:scaleX(.946)">EA7IXY</i></div>
<div class="p"><i>31</i></div>
<div class="t"><i>81</i></div>
<div class="x tr"><i>192</i></div>
<div class="t tl"><i>303</i></div>
<div class="t tl"><i>414</i></div>
<div class="t tl"><i>525</i></div>
<div class="t tl"><i>636</i></div>
<div class="t tl"><i>747</i></div>
<div class="t tl"><i>858</i></div>
<div class="t tl"><i>969</i></div>
<div class="n">8 - <i style="transform:scaleX(.923)">EA7YY</i></div>
<div class="p"><i>30</i></div>
<div class="t"><i>82</i></div>
<div class="x tr"><i>193</i></div>
<div class="t tl"><i>304</i></div>
<div class="t tl"><i>415</i></div>
<div class="t tl"><i>526</i></div>
<div class="t tl"><i>637</i></div>
<div class="t tl"><i>748</i></div>
<div class="t tl"><i>859</i></div>
<div class="t tl"><i>970</i></div>
<div class="n">9 - <i style="transform:scaleX(.906)">EA7YL</i></div>
<div class="p"><i>28</i></div>
<div class="t"><i>83</i></div>
<div class="x tr"><i>194</i></div>
<div class="t tl"><i>305</i></div>
<div class="t tl"><i>416</i></div>
<div class="t tl"><i>527</i></div>
<div class="t tl"><i>638</i></div>
<div class="t tl"><i>749</i></div>
<div class="t tl"><i>860</i></div>
<div class="t tl"><i>971</i></div>
<div class="n">10 - <i style="transform:scaleX(.967)">EA7JMO</i></div>
<div class="p"><i>28</i></div>
<div class="t"><i>84</i></div>
<div class="x tr"><i>195</i></div>
<div class="t tl"><i>306</i></div>
<div class="t tl"><i>417</i></div>
<div class="t tl"><i>528</i></div>
<div class="t tl"><i>639</i></div>
<div class="t tl"><i>750</i></div>
<div class="t tl"><i>861</i></div>
<div class="t tl"><i>972</i></div>
<div class="n">11 - <i style="transform:scaleX(.947)">EA7IQC</i></div>
<div class="p"><i>27</i></div>
<div class="t"><i>85</i></div>
<div class="x tr"><i>196</i></div>
<div class="t tl"><i>307</i></div>
<div class="t tl"><i>418</i></div>
<div class="t tl"><i>529</i></div>
<div class="t tl"><i>640</i></div>
<div class="t tl"><i>751</i></div>
<div class="t tl"><i>862</i></div>
<div class="t tl"><i>973</i></div>
<div class="n">12 - <i style="transform:scaleX(.932)">EA5HBB</i></div>
<div class="p"><i>26</i></div>
<div class="t"><i>86</i></div>
<div class="x tr"><i>197</i></div>
<div class="t tl"><i>308</i></div>
<div class="t tl"><i>419</i></div>
<div class="t tl"><i>530</i></div>
<div class="t tl"><i>641</i></div>
<div class="t tl"><i>752</i></div>
<div class="t tl"><i>863</i></div>
<div class="t tl"><i>974</i></div>
<div class="n">13 - <i style="transform:scaleX(.937)">EA7KUZ</i></div>
<div class="p"><i>25</i></div>
<div class="t"><i>87</i></div>
<div class="x tr"><i>198</i></div>
<div class="t tl"><i>309</i></div>
<div class="t tl"><i>420</i></div>
<div class="t tl"><i>531</i></div>
<div class="t tl"><i>642</i></div>
<div class="t tl"><i>753</i></div>
<div class="t tl"><i>864</i></div>
<div class="t tl"><i>975</i></div>
<div class="n">14 - <i style="transform:scaleX(.964)">EA7JM</i></div>
<div class="p"><i>25</i></div>
<div class="t"><i>88</i></div>
<div class="x tr"><i>199</i></div>
<div class="t tl"><i>310</i></div>
<div class="t tl"><i>421</i></div>
<div class="t tl"><i>532</i></div>
<div class="t tl"><i>643</i></div>
<div class="t tl"><i>754</i></div>
<div class="t tl"><i>865</i></div>
<div class="t tl"><i>976</i></div>
<div class="n">15 - <i style="transform:scaleX(.913)">EA7JIG</i></div>
<div class="p"><i>24</i></div>
<div class="t"><i>89</i></div>
<div class="x tr"><i>200</i></div>
<div class="t tl"><i>311</i></div>
<div class="t tl"><i>422</i></div>
<div class="t tl"><i>533</i></div>
<div class="t tl"><i>644</i></div>
<div class="t tl"><i>755</i></div>
<div class="t tl"><i>866</i></div>
<div class="t tl"><i>977</i></div>
<div class="n">16- <i style="transform:scaleX(.955)">EA5IHB</i></div>
<div class="p"><i>22</i></div>
<div class="t"><i>90</i></div>
<div class="x tr"><i>201</i></div>
<div class="t tl"><i>312</i></div>
<div class="t tl"><i>423</i></div>
<div class="t tl"><i>534</i></div>
<div class="t tl"><i>645</i></div>
<div class="t tl"><i>756</i></div>
<div class="t tl"><i>867</i></div>
<div class="t tl"><i>978</i></div>
<div class="n">17 - <i style="transform:scaleX(.916)">EA7JZN</i></div>
<div class="p"><i>21</i></div>
<div class="t"><i>91</i></div>
<div class="x tr"><i>202</i></div>
<div class="t tl"><i>313</i></div>
<div class="t tl"><i>424</i></div>
<div class="t tl"><i>535</i></div>
<div class="t tl"><i>646</i></div>
<div class="t tl"><i>757</i></div>
<div class="t tl"><i>868</i></div>
<div class="t tl"><i>979</i></div>
<div class="n">18 - <i style="transform:scaleX(.887)">EA7JBZ</i></div>
<div class="p"><i>21</i></div>
<div class="t"><i>92</i></div>
<div class="x tr"><i>203</i></div>
<div class="t tl"><i>314</i></div>
<div class="t tl"><i>425</i></div>
<div class="t tl"><i>536</i></div>
<div class="t tl"><i>647</i></div>
<div class="t tl"><i>758</i></div>
<div class="t tl"><i>869</i></div>
<div class="t tl"><i>980</i></div>
<div class="n">19 - <i style="transform:scaleX(.982)">EA7GMY</i></div>
<div class="p"><i>20</i></div>
<div class="t"><i>93</i></div>
<div class="x tr"><i>204</i></div>
<div class="t tl"><i>315</i></div>
<div class="t tl"><i>426</i></div>
<div class="t tl"><i>537</i></div>
<div class="t tl"><i>648</i></div>
<div class="t tl"><i>759</i></div>
<div class="t tl"><i>870</i></div>
<div class="t tl"><i>981</i></div>
<div class="n">20 - <i style="transform:scaleX(.947)">EA7DKD</i></div>
<div class="p"><i>20</i></div>
<div class="t"><i>94</i></div>
<div class="x tr"><i>205</i></div>
<div class="t tl"><i>316</i></div>
<div class="t tl"><i>427</i></div>
<div class="t tl"><i>538</i></div>
<div class="t tl"><i>649</i></div>
<div class="t tl"><i>760</i></div>
<div class="t tl"><i>871</i></div>
<div class="t tl"><i>982</i></div>
<div class="n">21 - <i style="transform:scaleX(.948)">EA7IVE</i></div>
<div class="p"><i>19</i></div>
<div class="t"><i>95</i></div>
<div class="x tr"><i>206</i></div>
<div class="t tl"><i>317</i></div>
<div class="t tl"><i>428</i></div>
<div class="t tl"><i>539</i></div>
<div class="t tl"><i>650</i></div>
<div class="t tl"><i>761</i></div>
<div class="t tl"><i>872</i></div>
<div class="t tl"><i>983</i></div>
<div class="n">22- <i style="transform:scaleX(.96)">EA7HNR</i></div>
<div class="p"><i>19</i></div>
<div class="t"><i>96</i></div>
<div class="x tr"><i>207</i></div>
<div class="t tl"><i>318</i></div>
<div class="t tl"><i>429</i></div>
<div class="t tl"><i>540</i></div>
<div class="t tl"><i>651</i></div>
<div class="t tl"><i>762</i></div>
<div class="t tl"><i>873</i></div>
<div class="t tl"><i>984</i></div>
<div class="n">23 - <i style="transform:scaleX(.886)">EC7C</i></div>
<div class="p"><i>18</i></div>
<div class="t"><i>97</i></div>
<div class="x tr"><i>208</i></div>
<div class="t tl"><i>319</i></div>
<div class="t tl"><i>430</i></div>
<div class="t tl"><i>541</i></div>
<div class="t tl"><i>652</i></div>
<div class="t tl"><i>763</i></div>
<div class="t tl"><i>874</i></div>
<div class="t tl"><i>985</i></div>
<div class="n">24 - <i style="transform:scaleX(.991)">EA5FM</i></div>
<div class="p"><i>18</i></div>
<div class="t"><i>98</i></div>
<div class="x tr"><i>209</i></div>
<div class="t tl"><i>320</i></div>
<div class="t tl"><i>431</i></div>
<div class="t tl"><i>542</i></div>
<div class="t tl"><i>653</i></div>
<div class="t tl"><i>764</i></div>
<div class="t tl"><i>875</i></div>
<div class="t tl"><i>986</i></div>
<div class="n">25 - <i style="transform:scaleX(.929)">EA5HGS</i></div>
<div class="p"><i>18</i></div>
<div class="t"><i>99</i></div>
<div class="x tr"><i>210</i></div>
<div class="t tl"><i>321</i></div>
<div class="t tl"><i>432</i></div>
<div class="t tl"><i>543</i></div>
<div class="t tl"><i>654</i></div>
<div class="t tl"><i>765</i></div>
<div class="t tl"><i>876</i></div>
<div class="t tl"><i>987</i></div>
<div class="n">26 - <i style="transform:scaleX(.95)">EA5HKI</i></div>
<div class="p"><i>18</i></div>
<div class="t"><i>100</i></div>
<div class="x tr"><i>211</i></div>
<div class="t tl"><i>322</i></div>
<div class="t tl"><i>433</i></div>
<div class="t tl"><i>544</i></div>
<div class="t tl"><i>655</i></div>
<div class="t tl"><i>766</i></div>
<div class="t tl"><i>877</i></div>
<div class="t tl"><i>988</i></div>
<div class="n">27 - <i style="transform:scaleX(.952)">EA5HNE</i></div>
<div class="p"><i>18</i></div>
<div class="t"><i>101</i></div>
<div class="x tr"><i>212</i></div>
<div class="t tl"><i>323</i></div>
<div class="t tl"><i>434</i></div>
<div class="t tl"><i>545</i></div>
<div class="t tl"><i>656</i></div>
<div class="t tl"><i>767</i></div>
<div class="t tl"><i>878</i></div>
<div class="t tl"><i>989</i></div>
<div class="n">28 - <i style="transform:scaleX(.892)">EA7JRT</i></div>
<div class="p"><i>18</i></div>
<div class="t"><i>102</i></div>
<div class="x tr"><i>213</i></div>
<div class="t tl"><i>324</i></div>
<div class="t tl"><i>435</i></div>
<div class="t tl"><i>546</i></div>
<div class="t tl"><i>657</i></div>
<div class="t tl"><i>768</i></div>
<div class="t tl"><i>879</i></div>
<div class="t tl"><i>990</i></div>
<div class="n">29 - <i style="transform:scaleX(.987)">EA5ISM</i></div>
<div class="p"><i>18</i></div>
<div class="t"><i>103</i></div>
<div class="x tr"><i>214</i></div>
<div class="t tl"><i>325</i></div>
<div class="t tl"><i>436</i></div>
<div class="t tl"><i>547</i></div>
<div class="t tl"><i>658</i></div>
<div class="t tl"><i>769</i></div>
<div class="t tl"><i>880</i></div>
<div class="t tl"><i>991</i></div>
<div class="n">30 - <i style="transform:scaleX(.957)">EA5HNF</i></div>
<div class="p"><i>16</i></div>
<div class="t"><i>104</i></div>
<div class="x tr"><i>215</i></div>
<div class="t tl"><i>326</i></div>
<div class="t tl"><i>437</i></div>
<div class="t tl"><i>548</i></div>
<div class="t tl"><i>659</i></div>
<div class="t tl"><i>770</i></div>
<div class="t tl"><i>881</i></div>
<div class="t tl"><i>992</i></div>
<div class="n">31 - <i style="transform:scaleX(.945)">EA5HZX</i></div>
<div class="p"><i>16</i></div>
<div class="t"><i>105</i></div>
<div class="x tr"><i>216</i></div>
<div class="t tl"><i>327</i></div>
<div class="t tl"><i>438</i></div>
<div class="t tl"><i>549</i></div>
<div class="t tl"><i>660</i></div>
<div class="t tl"><i>771</i></div>
<div class="t tl"><i>882</i></div>
<div class="t tl"><i>993</i></div>
<div class="n">32 - <i style="transform:scaleX(.91)">EA5RKB</i></div>
<div class="p"><i>16</i></div>
<div class="t"><i>106</i></div>
<div class="x tr"><i>217</i></div>
<div class="t tl"><i>328</i></div>
<div class="t tl"><i>439</i></div>
<div class="t tl"><i>550</i></div>
<div class="t tl"><i>661</i></div>
<div class="t tl"><i>772</i></div>
<div class="t tl"><i>883</i></div>
<div class="t tl"><i>994</i></div>
<div class="n">33- <i style="transform:scaleX(.902)">EA7KOJ</i></div>
<div class="p"><i>15</i></div>
<div class="t"><i>107</i></div>
<div class="x tr"><i>218</i></div>
<div class="t tl"><i>329</i></div>
<div class="t tl"><i>440</i></div>
<div class="t tl"><i>551</i></div>
<div class="t tl"><i>662</i></div>
<div class="t tl"><i>773</i></div>
<div class="t tl"><i>884</i></div>
<div class="t tl"><i>995</i></div>
<div class="n">34 - <i style="transform:scaleX(.968)">EA5HAY</i></div>
<div class="p"><i>15</i></div>
<div class="t"><i>108</i></div>
<div class="x tr"><i>219</i></div>
<div class="t tl"><i>330</i></div>
<div class="t tl"><i>441</i></div>
<div class="t tl"><i>552</i></div>
<div class="t tl"><i>663</i></div>
<div class="t tl"><i>774</i></div>
<div class="t tl"><i>885</i></div>
<div class="t tl"><i>996</i></div>
<div class="n">35 - <i style="transform:scaleX(.912)">EA7JRU</i></div>
<div class="p"><i>15</i></div>
<div class="t"><i>109</i></div>
<div class="x tr"><i>220</i></div>
<div class="t tl"><i>331</i></div>
<div class="t tl"><i>442</i></div>
<div class="t tl"><i>553</i></div>
<div class="t tl"><i>664</i></div>
<div class="t tl"><i>775</i></div>
<div class="t tl"><i>886</i></div>
<div class="t tl"><i>997</i></div>
<div class="n">36 - <i style="transform:scaleX(.899)">EA5JAR</i></div>
<div class="p"><i>15</i></div>
<div class="t"><i>110</i></div>
<div class="x tr"><i>221</i></div>
<div class="t tl"><i>332</i></div>
<div class="t tl"><i>443</i></div>
<div class="t tl"><i>554</i></div>
<div class="t tl"><i>665</i></div>
<div class="t tl"><i>776</i></div>
<div class="t tl"><i>887</i></div>
<div class="t tl"><i>998</i></div>
</div></div>
<div class="box" style="left:896px;top:1414px;width:728px"><span class="w" style="left:180.43px;transform:scaleX(.893)">TOTAL</span> <span class="w" style="left:242.39px;transform:scaleX(.884)">DE</span> <span class="w" style="left:271.17px;transform:scaleX(.898)">PARTCIPANTES</span> <span class="w" style="left:410.73px;transform:scaleX(1.083)">111</span> <span class="w" style="left:449.89px;transform:scaleX(.88)">ESTACIONES</span></div>
<div class="box" style="left:1066px;top:1478px;width:384px"><span class="w" style="left:136.02px;transform:scaleX(.933)">EA1ARB:</span> <span class="w" style="left:224.01px;transform:scaleX(1.083)">999</span></div>
</body></html>
